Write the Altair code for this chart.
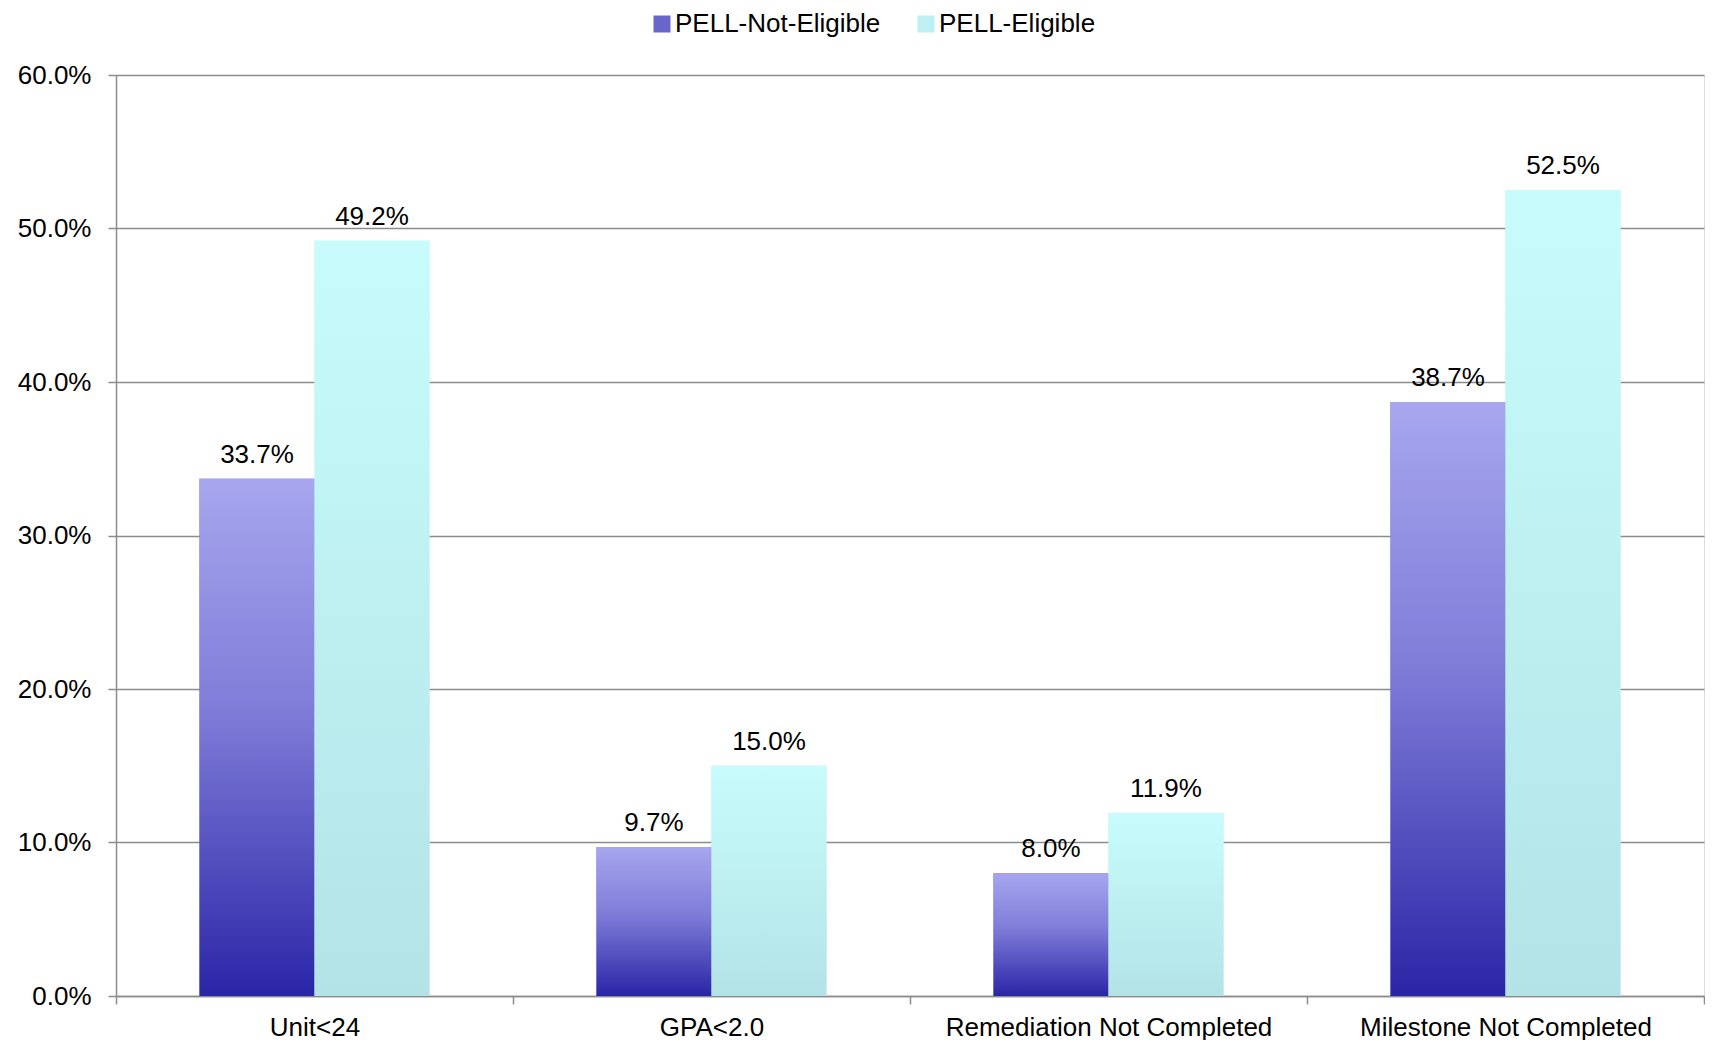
import altair as alt
import pandas as pd

categories = ["Unit<24", "GPA<2.0", "Remediation Not Completed", "Milestone Not Completed"]
series = ["PELL-Not-Eligible", "PELL-Eligible"]
not_eligible = [0.337, 0.097, 0.080, 0.387]
eligible = [0.492, 0.150, 0.119, 0.525]
y_ticks = [0.0, 0.1, 0.2, 0.3, 0.4, 0.5, 0.6]

rows = []
for c, a, b in zip(categories, not_eligible, eligible):
    rows.append({"category": c, "series": series[0], "value": a})
    rows.append({"category": c, "series": series[1], "value": b})
df = pd.DataFrame(rows)

FONT = "Liberation Sans"
GRAY = "#8c8c8c"

x_enc = alt.X("category:N", sort=categories, title=None,
              scale=alt.Scale(paddingInner=0, paddingOuter=0),
              axis=alt.Axis(labelAngle=0, labelFontSize=26, labelColor="#000000",
                            labelPadding=10, tickBand="extent", ticks=True,
                            tickSize=8, tickColor=GRAY, tickWidth=1.5,
                            domainColor=GRAY, domainWidth=1.5, grid=False,
                            labelFont=FONT, labelLimit=0))
xo_enc = alt.XOffset("series:N", sort=series,
                     scale=alt.Scale(domain=series, paddingInner=0, paddingOuter=0.726))
y_enc = alt.Y("value:Q", title=None,
              scale=alt.Scale(domain=[0, 0.6], nice=False),
              axis=alt.Axis(values=y_ticks, format=".1%", labelFontSize=26,
                            labelColor="#000000", labelPadding=17, tickSize=8,
                            tickColor=GRAY, tickWidth=1.5, domainColor=GRAY,
                            domainWidth=1.5, gridColor=GRAY, gridWidth=1.5,
                            labelFont=FONT, labelLimit=0))

base = alt.Chart(df)

legend_layer = base.mark_bar().encode(
    x=x_enc, xOffset=xo_enc, y=y_enc,
    color=alt.Color("series:N", sort=series,
                    scale=alt.Scale(domain=series, range=["#6866c8", "#bdf0f2"]),
                    legend=alt.Legend(title=None, orient="none", direction="horizontal",
                                      legendX=533, legendY=-64, symbolType="square",
                                      symbolSize=289, symbolStrokeWidth=0,
                                      labelFontSize=26, labelFont=FONT,
                                      labelColor="#000000", labelOffset=0,
                                      labelLimit=0, columnPadding=32, padding=0)),
)

grad_not = alt.Gradient(
    gradient="linear", x1=0, x2=0, y1=0, y2=1,
    stops=[alt.GradientStop(color="#a7a6ee", offset=0),
           alt.GradientStop(color="#7f7cd8", offset=0.45),
           alt.GradientStop(color="#2a25a6", offset=1)])
grad_el = alt.Gradient(
    gradient="linear", x1=0, x2=0, y1=0, y2=1,
    stops=[alt.GradientStop(color="#c8fcfc", offset=0),
           alt.GradientStop(color="#b3e3e7", offset=1)])

bars_not = base.transform_filter(alt.datum.series == series[0]).mark_bar(
    color=grad_not).encode(x=x_enc, xOffset=xo_enc, y=y_enc)
bars_el = base.transform_filter(alt.datum.series == series[1]).mark_bar(
    color=grad_el).encode(x=x_enc, xOffset=xo_enc, y=y_enc)

labels = base.mark_text(dy=-16, baseline="alphabetic", fontSize=26, font=FONT,
                        color="#000000").encode(
    x=x_enc, xOffset=xo_enc, y=y_enc,
    text=alt.Text("value:Q", format=".1%"))

chart = alt.layer(legend_layer, bars_not, bars_el, labels).properties(
    width=1588, height=921,
    padding={"left": 9, "top": 3, "right": 0, "bottom": 0},
).configure_view(stroke=None).configure(font=FONT)

chart.save("out.html", embed_options={"renderer": "svg", "actions": False})
